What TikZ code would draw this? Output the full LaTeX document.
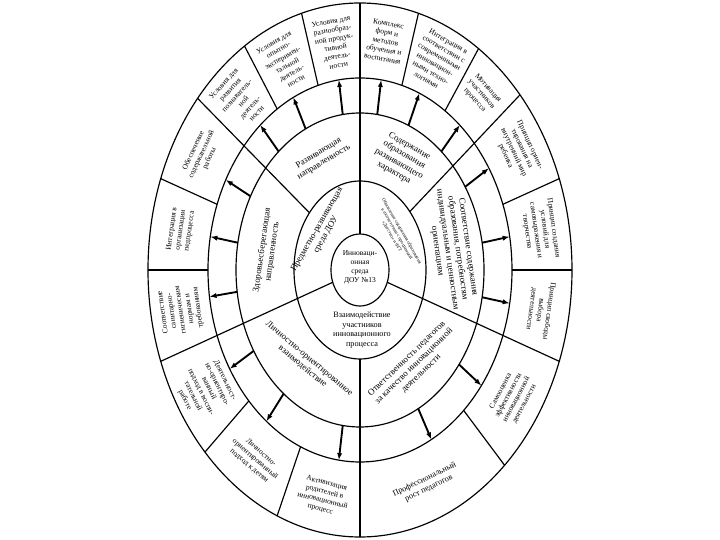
\documentclass[tikz,border=0pt]{standalone}
\usepackage{fontspec}
\setmainfont{Liberation Serif}
\usetikzlibrary{arrows.meta}
\begin{document}
\begin{tikzpicture}[scale=0.03, line width=1pt,
  box/.style={align=center, inner sep=0pt, font=\fontsize{6.4}{7.6}\selectfont},
  sec/.style={align=center, inner sep=0pt, font=\fontsize{7.6}{8.8}\selectfont},
  tiny/.style={align=center, inner sep=0pt, font=\fontsize{4}{4.8}\selectfont},
  arr/.style={line width=1.6pt, -{Latex[length=6pt,width=4.5pt]}}]
\useasboundingbox (-360,-270) rectangle (360,270);
\fill[white] (-360,-270) rectangle (360,270);

% rings
\draw (0,0) ellipse [x radius=212, y radius=267];
\draw (0,0) ellipse [x radius=152, y radius=192];
\draw (0,0) ellipse [x radius=124, y radius=157];
\draw (0,0) ellipse [x radius=66, y radius=89];
\draw (0,0) ellipse [x radius=29, y radius=36];

% dividers
\foreach \t in {90,200,340} \draw (\t:29 and 36) -- (\t:212 and 267);
\foreach \t in {41,140,270} \draw (\t:66 and 89) -- (\t:212 and 267);
\foreach \t in {0,20,56,74,106,123,160,180,223,247,313} \draw (\t:152 and 192) -- (\t:212 and 267);

% arrows to the outer boxes
\foreach \t [count=\i] in {82,67,49,32,10,-10,-37,-62,262,232,211,188,170,152,131,116,98} {
  \coordinate (p\i) at (\t:124 and 157);
  \coordinate (q\i) at (\t:152 and 192);
  \draw[arr] (p\i) -- (q\i);
}

% centre
\node[box] (core) at (0,3) {Инноваци-\\онная\\среда\\ДОУ №13};

\node[sec, rotate=60] (mid1) at (143:48 and 63) {Предметно-развивающая\\среда ДОУ};
\node[tiny, rotate=-60] (mid2) at (37:46 and 60) {Обновление содержания образования\\в соответствии с программой\\«Детство» и ФГТ};
\node[box, font=\fontsize{7}{8.4}\selectfont] (mid3) at (2,-60) {Взаимодействие\\участников\\инновационного\\процесса};

\node[sec, rotate=31] (sec1) at (114:95 and 123) {Развивающая\\направленность};
\node[sec, rotate=-30] (sec2) at (64:95 and 123) {Содержание\\образования\\развивающего\\характера};
\node[sec, rotate=-82] (sec3) at (10:94 and 121) {Соответствие содержания\\образования, потребностям\\индивидуальным и ценностным\\ориентациям};
\node[sec, rotate=44] (sec4) at (-54:92 and 119) {Ответственность педагогов\\за качество инновационной\\деятельности};
\node[sec, rotate=-40] (sec5) at (233:90 and 116) {Личностно-ориентированное\\взаимодействие};
\node[sec, rotate=82] (sec6) at (171:94 and 122) {Здоровьесберегающая\\направленность};

% outer boxes
\node[box, rotate=-10] (box1) at (82:183 and 231) {Комплекс\\форм и\\методов\\обучения и\\воспитания};
\node[box, rotate=-30] (box2) at (65:183 and 231) {Интеграция в\\соответствии с\\современными\\инновацион-\\ными техно-\\логиями};
\node[box, rotate=-48] (box3) at (49:185 and 233) {Мотивация\\участников\\процесса};
\node[box, rotate=-65] (box4) at (31:184 and 232) {Принцип ориен-\\тирования на\\внутренний мир\\ребенка};
\node[box, rotate=-82] (box5) at (10:183 and 231) {Принцип создания\\условий для\\самовыражения и\\творчества};
\node[box, rotate=-98] (box6) at (-10:183 and 231) {Принцип свободы\\выбора\\деятельности};
\node[box, rotate=62] (box7) at (-33.5:183 and 231) {Самооценка\\эффективности\\инновационной\\деятельности};
\node[box, rotate=26, font=\fontsize{7}{8.4}\selectfont] (box8) at (-68.5:182 and 230) {Профессиональный\\рост педагогов};
\node[box, rotate=-14] (box9) at (258.5:183 and 231) {Активизация\\родителей в\\инновационный\\процесс};
\node[box, rotate=-41] (box10) at (235:183 and 231) {Личностно-\\ориентированный\\подход к детям};
\node[box, rotate=-64] (box11) at (211.5:182 and 230) {Деятельност-\\но-ориентиро-\\ванный\\подход в воспи-\\тательной\\работе};
\node[box, rotate=98] (box12) at (190:182 and 230) {Соответствие\\санитарно-\\гигиеническим\\нормам и\\требованиям};
\node[box, rotate=82] (box13) at (170:182 and 230) {Интеграция в\\организации\\педпроцесса};
\node[box, rotate=65] (box14) at (150:183 and 231) {Обеспечение\\содержательной\\работы};
\node[box, rotate=48] (box15) at (131.5:181 and 229) {Условия для\\развития\\познаватель-\\ной\\деятель-\\ности};
\node[box, rotate=30] (box16) at (114.5:181 and 229) {Условия для\\опытно-\\эксперимен-\\тальной\\деятель-\\ности};
\node[box, rotate=10] (box17) at (98:181 and 229) {Условия для\\разнообраз-\\ной продук-\\тивной\\деятель-\\ности};

\end{tikzpicture}
\end{document}
